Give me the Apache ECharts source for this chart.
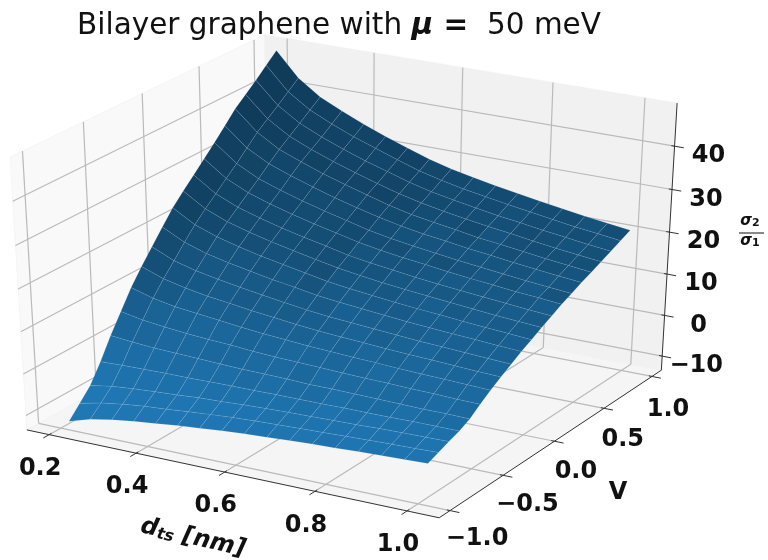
<!DOCTYPE html>
<html><head><meta charset="utf-8">
<style>html,body{margin:0;padding:0;background:#fff}#c{width:768px;height:560px}</style>
<script src="https://cdn.jsdelivr.net/npm/echarts@6/dist/echarts.min.js"></script>
</head><body><div id="c"></div>
<script>
const dtsValues=[.22,.27,.32,.37,.42,.47,.52,.57,.62,.67,.72,.77,.82,.87,.92,.97,1.02];
const vValues=[-1,-.904,-.808,-.712,-.616,-.52,-.424,-.328,-.232,-.136,-.04,.056,.152,.248,.344,.44,.536,.632,.728,.824,.92];
const sigmaRatio=[
[-11.4,-9.8,-8.8,-8.1,-7.5,-6.9,-6.4,-5.9,-5.5,-5.2,-4.9,-4.6,-4.4,-4.1,-3.9,-3.7,-3.5],
[-8.6,-7.4,-6.6,-6.0,-5.6,-5.1,-4.7,-4.3,-4.0,-3.8,-3.6,-3.4,-3.2,-3.0,-2.8,-2.7,-2.5],
[-5.8,-4.9,-4.4,-4.0,-3.7,-3.3,-3.1,-2.8,-2.6,-2.4,-2.3,-2.1,-2.0,-1.8,-1.7,-1.6,-1.5],
[-1.5,-1.3,-1.2,-1.1,-1.1,-1.0,-.9,-.9,-.8,-.8,-.8,-.7,-.7,-.7,-.6,-.6,-.6],
[3.3,2.8,2.4,2.2,2.0,1.8,1.6,1.5,1.4,1.2,1.2,1.1,1.0,.9,.8,.8,.7],
[7.6,6.6,6.0,5.5,5.1,4.8,4.4,4.1,3.9,3.7,3.5,3.3,3.2,3.0,2.9,2.7,2.6],
[11.9,10.4,9.4,8.8,8.2,7.6,7.1,6.7,6.3,6.0,5.7,5.5,5.2,5.0,4.8,4.6,4.4],
[15.5,13.6,12.4,11.5,10.8,10.1,9.5,8.9,8.4,8.0,7.7,7.3,7.0,6.8,6.5,6.2,6.0],
[18.8,16.5,15.1,14.1,13.2,12.4,11.6,10.9,10.3,9.9,9.5,9.1,8.7,8.4,8.1,7.8,7.5],
[22.1,19.5,17.8,16.6,15.6,14.6,13.8,12.9,12.3,11.8,11.3,10.8,10.4,10.0,9.7,9.3,9.0],
[25.3,22.3,20.4,19.0,17.8,16.8,15.8,14.8,14.1,13.5,12.9,12.4,12.0,11.5,11.1,10.7,10.3],
[27.9,24.7,22.6,21.1,19.8,18.7,17.6,16.6,15.8,15.1,14.5,14.0,13.5,13.0,12.5,12.1,11.7],
[30.4,26.9,24.7,23.1,21.7,20.5,19.4,18.2,17.4,16.7,16.0,15.4,14.9,14.4,13.9,13.4,13.0],
[32.9,29.2,26.8,25.1,23.6,22.3,21.1,19.9,19.0,18.2,17.6,16.9,16.3,15.8,15.2,14.8,14.3],
[35.4,31.4,28.8,27.0,25.4,24.0,22.7,21.4,20.4,19.6,18.9,18.2,17.6,17.0,16.4,15.9,15.4],
[38.1,33.8,31.0,29.1,27.4,25.8,24.4,23.1,22.0,21.1,20.4,19.6,19.0,18.3,17.7,17.1,16.6],
[40.8,36.2,33.1,31.1,29.2,27.6,26.1,24.6,23.4,22.5,21.7,20.8,20.2,19.5,18.8,18.2,17.6],
[42.9,38.1,34.9,32.7,30.8,29.1,27.5,26.0,24.8,23.8,22.9,22.1,21.4,20.6,19.9,19.3,18.7],
[45.0,40.0,36.7,34.4,32.4,30.6,29.0,27.4,26.1,25.1,24.2,23.3,22.6,21.8,21.1,20.4,19.8],
[47.3,42.0,38.6,36.2,34.1,32.3,30.5,28.8,27.5,26.4,25.5,24.6,23.8,23.0,22.2,21.6,20.9],
[49.5,44.0,40.4,38.0,35.8,33.8,32.0,30.3,28.9,27.8,26.8,25.9,25.0,24.2,23.4,22.7,22.0]];
const dtsTicks=[.2,.4,.6,.8,1.0], vTicks=[-1,-.5,0,.5,1], sigmaTicks=[-10,0,10,20,30,40];
const dtsLim=[.148,1.069], vLim=[-1.1,1.1], sigmaLim=[-13.5,49.8];

// matplotlib-style perspective view (elev 30, azim -60, dist 10) of the unit box
const U=[.8660254,.5,0], Vv=[-.25,.4330127,.8660254], W=[.4330127,-.75,.5];
const dot=(a,b)=>a[0]*b[0]+a[1]*b[1]+a[2]*b[2];
function proj(x,y,z){
  const d=[(x-dtsLim[0])/(dtsLim[1]-dtsLim[0])-.5,(y-vLim[0])/(vLim[1]-vLim[0])-.5,(z-sigmaLim[0])/(sigmaLim[1]-sigmaLim[0])-.5];
  const k=10-dot(W,d);
  return [dot(U,d)/k,dot(Vv,d)/k];
}
const [x0,x1]=dtsLim,[y0,y1]=vLim,[z0,z1]=sigmaLim;

// shading of the facets (matplotlib light vector, base colour tab:blue)
const base=[31,119,180], cells=[];
let sMin=1e9,sMax=-1e9;
for(let j=vValues.length-2;j>=0;j--)for(let i=0;i<dtsValues.length-1;i++){
  const a=[dtsValues[i+1]-dtsValues[i],0,sigmaRatio[j][i+1]-sigmaRatio[j][i]];
  const b=[0,vValues[j+1]-vValues[j],sigmaRatio[j+1][i]-sigmaRatio[j][i]];
  const n=[a[1]*b[2]-a[2]*b[1],a[2]*b[0]-a[0]*b[2],a[0]*b[1]-a[1]*b[0]];
  const s=(-n[0]-n[1]+.5*n[2])/Math.hypot(n[0],n[1],n[2]);
  sMin=Math.min(sMin,s);sMax=Math.max(sMax,s);
  cells.push({i,j,s});
}
function shade(s){const k=.5+.5*(s-sMin)/(sMax-sMin);return 'rgb('+base.map(c=>Math.round(c*k)).join(',')+')';}

// panes
const panes=[
 {c:[[x0,y0,z0],[x1,y0,z0],[x1,y1,z0],[x0,y1,z0]],f:'#f5f5f5'},
 {c:[[x0,y0,z0],[x0,y1,z0],[x0,y1,z1],[x0,y0,z1]],f:'#f9f9f9'},
 {c:[[x0,y1,z0],[x1,y1,z0],[x1,y1,z1],[x0,y1,z1]],f:'#f1f1f1'}];
const greyLines=[],darkLines=[];
dtsTicks.forEach(t=>{greyLines.push([[t,y0,z0],[t,y1,z0]],[[t,y1,z0],[t,y1,z1]]);darkLines.push([[t,y0-.05,z0],[t,y0+.02,z0]]);});
vTicks.forEach(t=>{greyLines.push([[x0,t,z0],[x1,t,z0]],[[x0,t,z0],[x0,t,z1]]);darkLines.push([[x1-.007,t,z0],[x1+.02,t,z0]]);});
sigmaTicks.forEach(t=>{greyLines.push([[x0,y0,t],[x0,y1,t]],[[x0,y1,t],[x1,y1,t]]);darkLines.push([[x1-.007,y1,t],[x1+.02,y1,t]]);});
darkLines.push([[x0,y0,z0],[x1,y0,z0]],[[x1,y0,z0],[x1,y1,z0]],[[x1,y1,z0],[x1,y1,z1]]);

const fmt1=v=>(v<0?'\u2212':'')+Math.abs(v).toFixed(1);
const labels=[];
dtsTicks.forEach(t=>labels.push({p:[t,y0,z0],o:[-9,34],s:fmt1(t)}));
vTicks.forEach(t=>labels.push({p:[x1,t,z0],o:[21.5-5.5*t,30.5+2.5*t],s:fmt1(t)}));
sigmaTicks.forEach(t=>labels.push({p:[x1,y1,t],o:[34,10],s:(t<0?'\u2212':'')+Math.abs(t)}));

const pts=(api,arr)=>arr.map(p=>api.coord(proj(p[0],p[1],p[2])));
const at=arr=>arr.map(o=>proj.apply(null,o.p?o.p:(o.c?o.c[0]:o[0])));
const sans='"DejaVu Sans"';
const option={
 animation:false,
 title:{text:'{a|Bilayer graphene with }{b|\u03bc =}{a|  50 meV}',left:72,top:6,
   textStyle:{fontWeight:'normal',rich:{a:{fontFamily:sans,fontSize:29.5,fontWeight:'normal',color:'#111'},b:{fontFamily:sans,fontSize:29.5,fontWeight:'bold',fontStyle:'italic',color:'#111'}}}},
 grid:{left:0,top:0,width:768,height:560},
 xAxis:{type:'value',min:-349/4760,max:419/4760,show:false},
 yAxis:{type:'value',min:-292/3115,max:268/3115,show:false},
 series:[
  {type:'custom',z:1,silent:true,clip:false,data:at(panes),renderItem:(p,api)=>{
    const q=panes[p.dataIndex];
    return {type:'polygon',shape:{points:pts(api,q.c)},style:{fill:q.f,stroke:'#f0f0f0',lineWidth:.6}};}},
  {type:'custom',z:2,silent:true,clip:false,data:at(greyLines),renderItem:(p,api)=>{
    const q=pts(api,greyLines[p.dataIndex]);
    return {type:'line',shape:{x1:q[0][0],y1:q[0][1],x2:q[1][0],y2:q[1][1]},style:{stroke:'#bababa',lineWidth:1.2}};}},
  {type:'custom',z:3,silent:true,clip:false,data:at(darkLines),renderItem:(p,api)=>{
    const q=pts(api,darkLines[p.dataIndex]);
    return {type:'line',shape:{x1:q[0][0],y1:q[0][1],x2:q[1][0],y2:q[1][1]},style:{stroke:'#333',lineWidth:1}};}},
  {type:'custom',z:4,silent:true,clip:false,
    data:cells.map(c=>proj(dtsValues[c.i],vValues[c.j],sigmaRatio[c.j][c.i])),
    renderItem:(p,api)=>{
      const c=cells[p.dataIndex],i=c.i,j=c.j,f=shade(c.s);
      const q=pts(api,[[dtsValues[i],vValues[j],sigmaRatio[j][i]],[dtsValues[i+1],vValues[j],sigmaRatio[j][i+1]],
        [dtsValues[i+1],vValues[j+1],sigmaRatio[j+1][i+1]],[dtsValues[i],vValues[j+1],sigmaRatio[j+1][i]]]);
      return {type:'polygon',shape:{points:q},style:{fill:f,stroke:'rgba(190,215,235,.2)',lineWidth:.6}};}},
  {type:'custom',z:5,silent:true,clip:false,data:at(labels),renderItem:(p,api)=>{
    const l=labels[p.dataIndex],q=pts(api,[l.p])[0];
    return {type:'text',style:{x:q[0]+l.o[0],y:q[1]+l.o[1],text:l.s,fill:'#111',font:'bold 24px '+sans,textAlign:'center',textVerticalAlign:'middle'}};}}
 ],
 graphic:[
  {type:'text',x:193,y:538,rotation:-13*Math.PI/180,style:{text:'{d|d}{s|ts}{d| [nm]}',align:'center',verticalAlign:'middle',fill:'#111',
     rich:{d:{font:'italic bold 24px '+sans,fill:'#111'},s:{font:'italic bold 16px '+sans,fill:'#111',padding:[8,0,0,0]}}}},
  {type:'text',x:618,y:493,style:{text:'V',font:'bold 24px '+sans,fill:'#111',align:'center',verticalAlign:'middle'}},
  {type:'text',x:750,y:221,style:{text:'{s|\u03c3}{n|2}',align:'center',verticalAlign:'middle',fill:'#111',
     rich:{s:{font:'italic bold 15px '+sans,fill:'#111'},n:{font:'bold 11px '+sans,fill:'#111',padding:[5,0,0,0]}}}},
  {type:'line',shape:{x1:739,y1:233,x2:764,y2:233},style:{stroke:'#111',lineWidth:1}},
  {type:'text',x:750,y:241,style:{text:'{s|\u03c3}{n|1}',align:'center',verticalAlign:'middle',fill:'#111',
     rich:{s:{font:'italic bold 15px '+sans,fill:'#111'},n:{font:'bold 11px '+sans,fill:'#111',padding:[5,0,0,0]}}}}
 ]
};
echarts.init(document.getElementById('c'),null,{renderer:'canvas'}).setOption(option);
</script></body></html>
